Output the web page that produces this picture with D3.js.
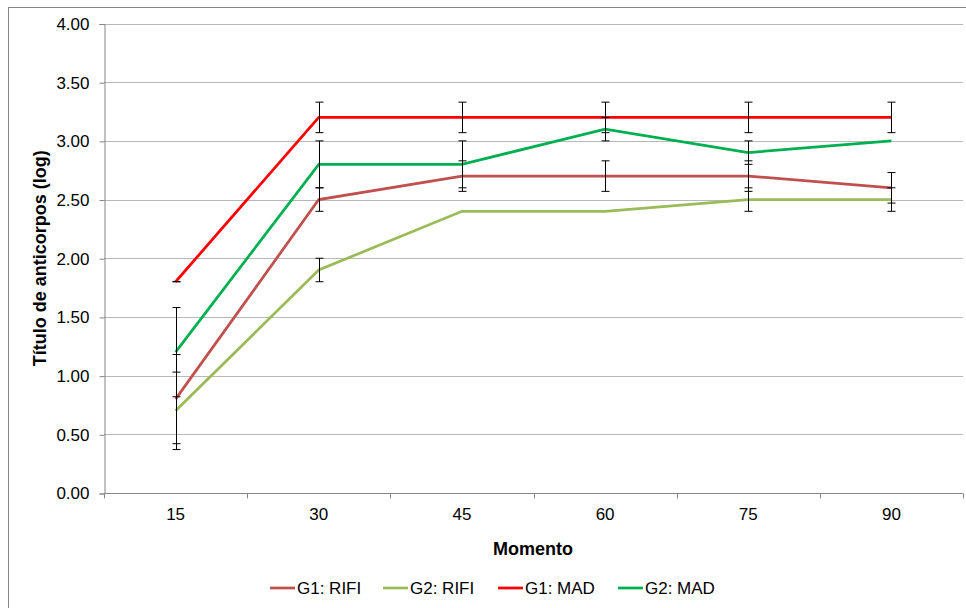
<!DOCTYPE html>
<html>
<head>
<meta charset="utf-8">
<script src="https://cdn.jsdelivr.net/npm/d3@7"></script>
<style>
  body { margin: 0; background: #fff; }
  text { font-family: "Liberation Sans", Arial, sans-serif; fill: #000; }
</style>
</head>
<body>
<svg id="chart" width="966" height="608"></svg>
<script>
// chart values
var moments = ["15", "30", "45", "60", "75", "90"];
var yTicks = [0, 0.5, 1, 1.5, 2, 2.5, 3, 3.5, 4];

var g1Rifi = [0.8, 2.5, 2.7, 2.7, 2.7, 2.6];
var g1RifiErr = [0.38, 0.1, 0.13, 0.13, 0.13, 0.13];
var g2Rifi = [0.7, 1.9, 2.4, 2.4, 2.5, 2.5];
var g2RifiErr = [0.33, 0.1, 0, 0, 0.1, 0.1];
var g1Mad = [1.8, 3.2, 3.2, 3.2, 3.2, 3.2];
var g1MadErr = [0, 0.13, 0.13, 0.13, 0.13, 0.13];
var g2Mad = [1.2, 2.8, 2.8, 3.1, 2.9, 3.0];
var g2MadErr = [0.38, 0.2, 0.2, 0.1, 0.1, 0];

var series = [
    {name: "G1: RIFI", values: g1Rifi, err: g1RifiErr, color: "#C0504D"},
    {name: "G2: RIFI", values: g2Rifi, err: g2RifiErr, color: "#9BBB59"},
    {name: "G1: MAD", values: g1Mad, err: g1MadErr, color: "#FF0000"},
    {name: "G2: MAD", values: g2Mad, err: g2MadErr, color: "#00B050"}
];

var svg = d3.select("#chart");

// outer chart frame
svg.append("rect")
    .attr("x", 8.5).attr("y", 7.5)
    .attr("width", 970).attr("height", 620)
    .attr("fill", "none")
    .attr("stroke", "#868686");

// plot area (note: "top" is reserved on window, so use other names)
var plotLeft = 104, plotRight = 963, plotTop = 23.5, plotBottom = 493;

var x = d3.scaleBand().domain(moments).range([plotLeft, plotRight]).padding(0);
var y = d3.scaleLinear().domain([0, 4]).range([plotBottom, plotTop]);
var cx = function(d) { return x(d) + x.bandwidth() / 2; };

// horizontal gridlines
svg.append("g")
    .selectAll("line")
    .data(yTicks.slice(1))
    .enter().append("line")
    .attr("x1", plotLeft).attr("x2", plotRight)
    .attr("y1", function(d) { return Math.round(y(d)) + 0.5; })
    .attr("y2", function(d) { return Math.round(y(d)) + 0.5; })
    .attr("stroke", "#B8B8B8")
    .attr("stroke-width", 1);

// y axis
var yAxis = svg.append("g")
    .attr("transform", "translate(" + (plotLeft + 0.5) + ",0.5)")
    .call(d3.axisLeft(y).tickValues(yTicks).tickFormat(d3.format(".2f")).tickSize(5).tickPadding(10));
yAxis.select(".domain").attr("stroke", "#868686");
yAxis.selectAll(".tick line").attr("stroke", "#868686");
yAxis.selectAll("text").style("font-size", "17px").attr("fill", "#000");

// x axis: labels centred, ticks on the band edges
var xAxis = svg.append("g")
    .attr("transform", "translate(0," + (plotBottom + 0.5) + ")")
    .call(d3.axisBottom(x).tickSize(0).tickPadding(14));
xAxis.select(".domain").remove();
xAxis.selectAll("text").style("font-size", "17px").attr("fill", "#000");
xAxis.append("line")
    .attr("x1", plotLeft).attr("x2", plotRight)
    .attr("stroke", "#868686");
xAxis.selectAll(".edge")
    .data(moments.concat(["end"]))
    .enter().append("line")
    .attr("class", "edge")
    .attr("x1", function(d) { return Math.round(d == "end" ? plotRight : x(d)) + 0.5; })
    .attr("x2", function(d) { return Math.round(d == "end" ? plotRight : x(d)) + 0.5; })
    .attr("y1", 0).attr("y2", 5)
    .attr("stroke", "#868686");

// axis titles
svg.append("text")
    .attr("transform", "translate(46," + ((plotTop + plotBottom) / 2) + ") rotate(-90)")
    .attr("text-anchor", "middle")
    .style("font-size", "18px")
    .style("font-weight", "bold")
    .text("Título de anticorpos (log)");

svg.append("text")
    .attr("x", 533).attr("y", 555)
    .attr("text-anchor", "middle")
    .style("font-size", "18px")
    .style("font-weight", "bold")
    .text("Momento");

// lines
var line = d3.line()
    .x(function(d, i) { return cx(moments[i]); })
    .y(function(d) { return y(d); });

series.forEach(function(s) {
    svg.append("path")
        .datum(s.values)
        .attr("fill", "none")
        .attr("stroke", s.color)
        .attr("stroke-width", 2.75)
        .attr("d", line);
});

// error bars
series.forEach(function(s) {
    var g = svg.append("g").attr("stroke", "#000").attr("stroke-width", 1);
    s.values.forEach(function(v, i) {
        var px = Math.round(cx(moments[i])) + 0.5;
        var e = s.err[i];
        if (i > 0 && e == 0) return;
        g.append("line")
            .attr("x1", px).attr("x2", px)
            .attr("y1", y(v + e)).attr("y2", y(v - e));
        [v + e, v - e].forEach(function(c) {
            g.append("line")
                .attr("x1", px - 4).attr("x2", px + 4)
                .attr("y1", y(c)).attr("y2", y(c));
        });
    });
});

// legend
var legendX = [270, 383, 498, 618];
var legend = svg.append("g");
series.forEach(function(s, i) {
    legend.append("line")
        .attr("x1", legendX[i]).attr("x2", legendX[i] + 25)
        .attr("y1", 588).attr("y2", 588)
        .attr("stroke", s.color)
        .attr("stroke-width", 2.75);
    legend.append("text")
        .attr("x", legendX[i] + 27).attr("y", 594)
        .style("font-size", "17px")
        .text(s.name);
});
</script>
</body>
</html>
